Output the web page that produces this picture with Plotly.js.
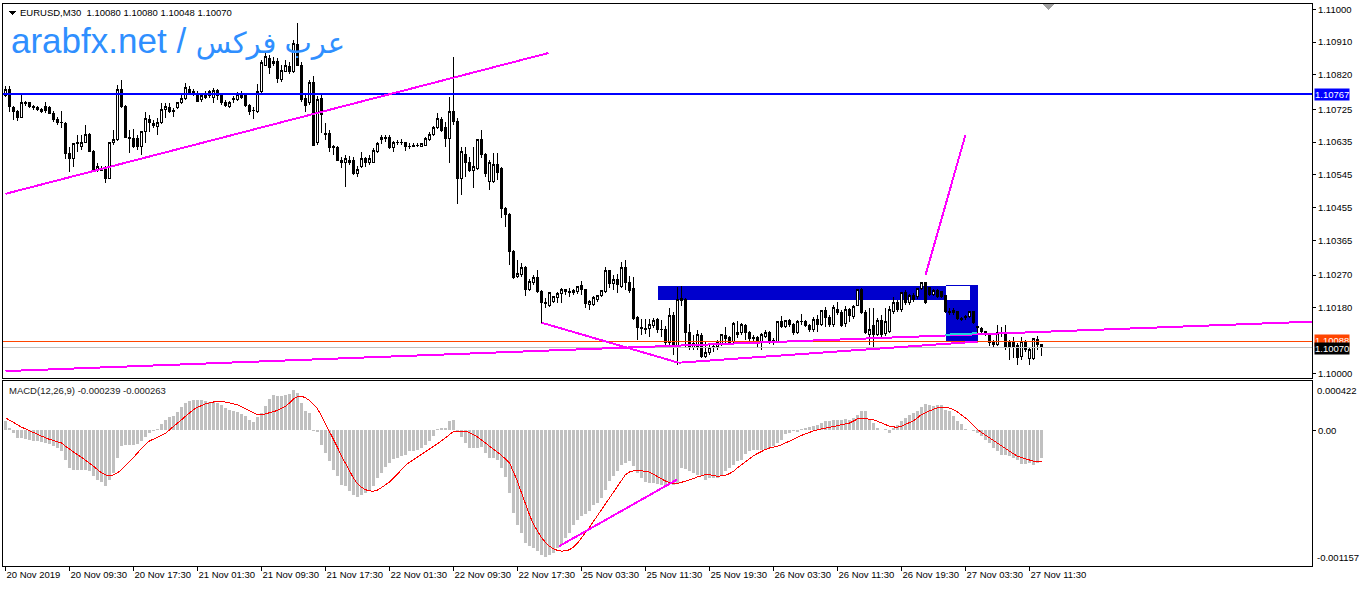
<!DOCTYPE html>
<html>
<head>
<meta charset="utf-8">
<script src="https://cdn.plot.ly/plotly-3.0.1.min.js"></script>
<style>
html,body{margin:0;padding:0;background:#fff;}
#chart{width:1360px;height:589px;}
.main-svg path{shape-rendering:crispEdges;}
</style>
</head>
<body>
<div id="chart"></div>
<script>
const symbolName = "EURUSD,M30";

const open = [
1.10762,1.10781,1.10729,1.10718,1.10704,1.10743,1.10743,1.10734,1.10729,1.10718,
1.10732,1.10729,1.10715,1.10696,1.10688,1.10685,1.10605,1.10589,1.10630,1.10622,
1.10635,1.10655,1.10608,1.10556,1.10564,1.10564,1.10536,1.10633,1.10641,1.10781,
1.10732,1.10649,1.10646,1.10644,1.10622,1.10663,1.10696,1.10685,1.10679,1.10688,
1.10726,1.10729,1.10721,1.10729,1.10743,1.10754,1.10781,1.10773,1.10770,1.10751,
1.10767,1.10762,1.10759,1.10776,1.10762,1.10743,1.10732,1.10756,1.10751,1.10770,
1.10762,1.10737,1.10721,1.10718,1.10773,1.10847,1.10866,1.10850,1.10858,1.10806,
1.10830,1.10844,1.10828,1.10902,1.10847,1.10754,1.10743,1.10800,1.10633,1.10754,
1.10660,1.10660,1.10622,1.10619,1.10586,1.10578,1.10578,1.10586,1.10550,1.10567,
1.10589,1.10578,1.10580,1.10608,1.10641,1.10649,1.10649,1.10619,1.10633,1.10635,
1.10633,1.10624,1.10624,1.10627,1.10624,1.10627,1.10641,1.10655,1.10674,1.10696,
1.10674,1.10644,1.10718,1.10693,1.10536,1.10602,1.10578,1.10558,1.10564,1.10641,
1.10600,1.10526,1.10528,1.10575,1.10564,1.10454,1.10435,1.10334,1.10265,1.10271,
1.10290,1.10229,1.10249,1.10262,1.10224,1.10194,1.10185,1.10196,1.10207,1.10218,
1.10229,1.10224,1.10221,1.10224,1.10240,1.10229,1.10188,1.10188,1.10202,1.10213,
1.10224,1.10282,1.10246,1.10257,1.10238,1.10290,1.10249,1.10232,1.10153,1.10125,
1.10122,1.10122,1.10131,1.10147,1.10120,1.10120,1.10084,1.10158,1.10073,1.10205,
1.10202,1.10111,1.10070,1.10073,1.10103,1.10045,1.10056,1.10070,1.10073,1.10078,
1.10103,1.10098,1.10087,1.10111,1.10111,1.10131,1.10111,1.10095,1.10098,1.10087,
1.10100,1.10111,1.10089,1.10087,1.10142,1.10128,1.10144,1.10133,1.10111,1.10142,
1.10142,1.10131,1.10120,1.10147,1.10133,1.10172,1.10153,1.10133,1.10174,1.10166,
1.10136,1.10174,1.10155,1.10185,1.10229,1.10166,1.10106,1.10131,1.10106,1.10144,
1.10109,1.10114,1.10169,1.10194,1.10174,1.10221,1.10194,1.10213,1.10210,1.10232,
1.10249,1.10235,1.10216,1.10227,1.10224,1.10213,1.10169,1.10172,1.10169,1.10150,
1.10153,1.10155,1.10169,1.10128,1.10122,1.10114,1.10106,1.10087,1.10078,1.10111,
1.10109,1.10084,1.10087,1.10076,1.10045,1.10084,1.10040,1.10040,1.10092,1.10080
];
const high = [
1.10789,1.10789,1.10734,1.10723,1.10765,1.10748,1.10745,1.10737,1.10734,1.10729,
1.10745,1.10734,1.10721,1.10704,1.10721,1.10690,1.10622,1.10633,1.10655,1.10655,
1.10682,1.10660,1.10613,1.10578,1.10569,1.10569,1.10635,1.10668,1.10792,1.10806,
1.10737,1.10668,1.10671,1.10655,1.10666,1.10718,1.10710,1.10696,1.10701,1.10743,
1.10743,1.10743,1.10729,1.10745,1.10770,1.10797,1.10789,1.10781,1.10776,1.10770,
1.10776,1.10778,1.10784,1.10781,1.10767,1.10751,1.10748,1.10762,1.10773,1.10776,
1.10767,1.10740,1.10732,1.10795,1.10861,1.10880,1.10874,1.10869,1.10866,1.10847,
1.10861,1.10855,1.10916,1.10962,1.10855,1.10765,1.10806,1.10817,1.10762,1.10765,
1.10688,1.10668,1.10627,1.10624,1.10594,1.10600,1.10597,1.10594,1.10569,1.10608,
1.10594,1.10600,1.10619,1.10635,1.10655,1.10655,1.10655,1.10638,1.10641,1.10644,
1.10635,1.10633,1.10633,1.10633,1.10633,1.10649,1.10663,1.10679,1.10715,1.10704,
1.10690,1.10759,1.10869,1.10701,1.10622,1.10622,1.10594,1.10622,1.10644,1.10668,
1.10605,1.10586,1.10605,1.10605,1.10567,1.10457,1.10440,1.10339,1.10312,1.10304,
1.10295,1.10260,1.10271,1.10284,1.10229,1.10207,1.10221,1.10213,1.10224,1.10235,
1.10232,1.10235,1.10232,1.10240,1.10254,1.10232,1.10202,1.10213,1.10216,1.10229,
1.10293,1.10284,1.10271,1.10273,1.10306,1.10312,1.10268,1.10265,1.10158,1.10150,
1.10150,1.10150,1.10153,1.10153,1.10147,1.10131,1.10180,1.10169,1.10238,1.10240,
1.10207,1.10136,1.10106,1.10120,1.10111,1.10087,1.10078,1.10084,1.10092,1.10106,
1.10128,1.10103,1.10142,1.10144,1.10139,1.10136,1.10117,1.10106,1.10103,1.10111,
1.10120,1.10117,1.10098,1.10144,1.10158,1.10147,1.10150,1.10139,1.10147,1.10163,
1.10147,1.10136,1.10155,1.10161,1.10174,1.10183,1.10161,1.10188,1.10196,1.10174,
1.10185,1.10180,1.10188,1.10232,1.10235,1.10174,1.10180,1.10180,1.10153,1.10161,
1.10180,1.10185,1.10210,1.10202,1.10224,1.10229,1.10218,1.10221,1.10235,1.10251,
1.10251,1.10238,1.10232,1.10232,1.10227,1.10216,1.10180,1.10180,1.10172,1.10155,
1.10161,1.10172,1.10172,1.10131,1.10128,1.10117,1.10109,1.10092,1.10133,1.10128,
1.10133,1.10092,1.10100,1.10084,1.10100,1.10092,1.10070,1.10098,1.10103,1.10080
];
const low = [
1.10759,1.10718,1.10696,1.10693,1.10704,1.10734,1.10729,1.10723,1.10721,1.10715,
1.10715,1.10712,1.10690,1.10682,1.10674,1.10589,1.10553,1.10567,1.10608,1.10613,
1.10633,1.10608,1.10553,1.10553,1.10556,1.10523,1.10534,1.10627,1.10638,1.10729,
1.10646,1.10605,1.10619,1.10613,1.10600,1.10633,1.10663,1.10674,1.10655,1.10685,
1.10701,1.10715,1.10704,1.10726,1.10740,1.10751,1.10765,1.10762,1.10745,1.10745,
1.10754,1.10756,1.10743,1.10751,1.10737,1.10732,1.10729,1.10743,1.10748,1.10754,
1.10732,1.10710,1.10699,1.10715,1.10770,1.10844,1.10822,1.10844,1.10797,1.10800,
1.10828,1.10822,1.10825,1.10844,1.10745,1.10718,1.10737,1.10624,1.10627,1.10660,
1.10641,1.10608,1.10600,1.10583,1.10564,1.10512,1.10572,1.10545,1.10539,1.10564,
1.10567,1.10572,1.10578,1.10605,1.10630,1.10635,1.10616,1.10608,1.10627,1.10627,
1.10611,1.10616,1.10622,1.10622,1.10622,1.10624,1.10638,1.10652,1.10671,1.10663,
1.10622,1.10578,1.10682,1.10465,1.10490,1.10539,1.10553,1.10509,1.10558,1.10591,
1.10539,1.10504,1.10523,1.10531,1.10427,1.10402,1.10298,1.10260,1.10262,1.10265,
1.10213,1.10227,1.10243,1.10221,1.10139,1.10180,1.10183,1.10194,1.10194,1.10194,
1.10216,1.10210,1.10216,1.10218,1.10216,1.10180,1.10174,1.10185,1.10196,1.10210,
1.10221,1.10235,1.10229,1.10221,1.10235,1.10229,1.10221,1.10147,1.10092,1.10106,
1.10109,1.10100,1.10125,1.10111,1.10100,1.10070,1.10076,1.10051,1.10023,1.10185,
1.10070,1.10065,1.10065,1.10065,1.10043,1.10043,1.10051,1.10059,1.10065,1.10076,
1.10081,1.10081,1.10084,1.10098,1.10106,1.10092,1.10087,1.10087,1.10073,1.10065,
1.10098,1.10081,1.10078,1.10087,1.10125,1.10125,1.10128,1.10106,1.10109,1.10133,
1.10128,1.10114,1.10114,1.10114,1.10131,1.10128,1.10128,1.10128,1.10161,1.10128,
1.10128,1.10142,1.10150,1.10185,1.10163,1.10109,1.10078,1.10065,1.10103,1.10100,
1.10103,1.10111,1.10163,1.10169,1.10169,1.10188,1.10188,1.10196,1.10205,1.10229,
1.10191,1.10213,1.10213,1.10207,1.10207,1.10166,1.10161,1.10161,1.10147,1.10144,
1.10147,1.10153,1.10136,1.10111,1.10109,1.10103,1.10076,1.10073,1.10076,1.10100,
1.10065,1.10037,1.10043,1.10023,1.10037,1.10059,1.10023,1.10037,1.10065,1.10048
];
const close = [
1.10781,1.10734,1.10718,1.10704,1.10743,1.10740,1.10734,1.10729,1.10726,1.10726,
1.10723,1.10715,1.10696,1.10688,1.10690,1.10605,1.10589,1.10630,1.10633,1.10635,
1.10655,1.10608,1.10558,1.10567,1.10558,1.10536,1.10633,1.10641,1.10781,1.10732,
1.10649,1.10644,1.10622,1.10622,1.10663,1.10699,1.10688,1.10682,1.10688,1.10726,
1.10732,1.10718,1.10718,1.10743,1.10756,1.10784,1.10770,1.10770,1.10748,1.10762,
1.10759,1.10773,1.10778,1.10762,1.10743,1.10737,1.10743,1.10751,1.10767,1.10759,
1.10737,1.10718,1.10723,1.10773,1.10855,1.10869,1.10841,1.10858,1.10811,1.10833,
1.10847,1.10828,1.10907,1.10847,1.10751,1.10737,1.10800,1.10627,1.10751,1.10710,
1.10657,1.10619,1.10619,1.10586,1.10578,1.10589,1.10586,1.10550,1.10561,1.10589,
1.10578,1.10591,1.10613,1.10630,1.10649,1.10646,1.10619,1.10633,1.10635,1.10633,
1.10624,1.10623,1.10627,1.10626,1.10630,1.10644,1.10655,1.10674,1.10699,1.10668,
1.10644,1.10718,1.10693,1.10536,1.10608,1.10578,1.10558,1.10567,1.10641,1.10600,
1.10550,1.10578,1.10575,1.10553,1.10454,1.10435,1.10334,1.10262,1.10273,1.10290,
1.10229,1.10251,1.10262,1.10224,1.10194,1.10191,1.10221,1.10210,1.10218,1.10229,
1.10224,1.10221,1.10227,1.10238,1.10229,1.10191,1.10196,1.10207,1.10213,1.10227,
1.10282,1.10246,1.10257,1.10243,1.10290,1.10249,1.10227,1.10150,1.10125,1.10122,
1.10121,1.10133,1.10144,1.10120,1.10119,1.10084,1.10158,1.10073,1.10202,1.10199,
1.10111,1.10073,1.10081,1.10106,1.10045,1.10056,1.10070,1.10073,1.10084,1.10106,
1.10095,1.10084,1.10136,1.10106,1.10133,1.10111,1.10095,1.10098,1.10081,1.10106,
1.10111,1.10087,1.10088,1.10142,1.10128,1.10144,1.10133,1.10111,1.10142,1.10141,
1.10131,1.10120,1.10147,1.10133,1.10172,1.10153,1.10133,1.10180,1.10166,1.10131,
1.10174,1.10158,1.10183,1.10229,1.10166,1.10111,1.10120,1.10106,1.10144,1.10106,
1.10142,1.10174,1.10194,1.10174,1.10221,1.10194,1.10213,1.10202,1.10232,1.10249,
1.10194,1.10216,1.10227,1.10210,1.10210,1.10169,1.10168,1.10166,1.10150,1.10149,
1.10155,1.10169,1.10139,1.10125,1.10114,1.10106,1.10084,1.10078,1.10111,1.10109,
1.10070,1.10070,1.10073,1.10043,1.10087,1.10065,1.10065,1.10095,1.10078,1.10070
];

const macdMain = [
0.000079,0.000021,-0.000021,-0.000064,-0.000064,-0.000073,-0.000078,-0.000087,-0.000092,-0.000101,
-0.000107,-0.000115,-0.000135,-0.000149,-0.000172,-0.000249,-0.00032,-0.000334,-0.00034,-0.00034,
-0.000334,-0.000343,-0.000391,-0.00042,-0.00044,-0.000477,-0.00042,-0.000363,-0.000235,-0.000135,
-0.000121,-0.000121,-0.000121,-0.000115,-0.000092,-0.000058,-0.000021,-0.000007,0.000015,0.000055,
0.000092,0.000113,0.000126,0.000155,0.000198,0.000235,0.000254,0.000263,0.000263,0.000263,
0.000254,0.000243,0.000243,0.000235,0.000215,0.000192,0.000178,0.000164,0.000155,0.000141,
0.000121,0.000092,0.00007,0.000113,0.000149,0.000206,0.000271,0.0003,0.000292,0.000292,
0.000306,0.000311,0.000343,0.00032,0.000235,0.000169,0.000149,-0.000007,-0.000015,-0.000121,
-0.000192,-0.000263,-0.000334,-0.000391,-0.000462,-0.000477,-0.000519,-0.000548,-0.000567,-0.000548,
-0.000533,-0.000519,-0.000477,-0.000405,-0.000363,-0.000314,-0.000277,-0.000243,-0.000235,-0.00022,
-0.000206,-0.000177,-0.000172,-0.000164,-0.000149,-0.000121,-0.000092,-0.00005,0.000009,
0.000021,0.000021,0.000078,0.000092,-0.000001,-0.000058,-0.000107,-0.000149,-0.000149,-0.000149,
-0.000144,-0.000192,-0.000235,-0.000235,-0.000249,-0.00032,-0.0004,-0.000533,-0.000704,-0.000803,
-0.000875,-0.00096,-0.000988,-0.001003,-0.001031,-0.001059,-0.001082,-0.001059,-0.001045,-0.001003,
-0.000974,-0.000917,-0.000875,-0.000803,-0.000761,-0.000732,-0.000712,-0.000684,-0.000633,-0.000619,
-0.000576,-0.000505,-0.000434,-0.000391,-0.000348,-0.000297,-0.000277,-0.000257,-0.000306,-0.000363,
-0.000405,-0.000439,-0.000448,-0.000448,-0.000456,-0.000468,-0.000462,-0.000456,-0.000462,-0.000448,
-0.00032,-0.000326,-0.000343,-0.000363,-0.000377,-0.000391,-0.00042,-0.000405,-0.000405,-0.000405,
-0.000377,-0.000348,-0.00032,-0.000292,-0.000263,-0.000249,-0.000201,-0.000172,-0.000164,-0.000164,
-0.000164,-0.000158,-0.000149,-0.000135,-0.000107,-0.000078,-0.00003,-0.000021,-0.000007,-0.000013,
0.000013,0.000021,0.00003,0.000036,0.00005,0.000064,0.000078,0.000084,0.000092,0.000092,
0.000092,0.000101,0.000092,0.000107,0.000135,0.000169,0.000164,0.000092,0.000064,0.000021,
0.000007,0.000016,-0.000021,0.000021,0.00005,0.000078,0.000107,0.000135,0.000149,0.000169,
0.000198,0.000226,0.00022,0.000206,0.00022,0.000215,0.000178,0.000164,0.000121,0.000084,
0.000055,0.000016,0.000007,-0.000001,-0.000021,-0.00005,-0.000078,-0.000107,-0.000149,-0.000178,
-0.000212,-0.000212,-0.00022,-0.000235,-0.000249,-0.000286,-0.000286,-0.000277,-0.000297,-0.000277,
-0.000239
];
const macdSignal = [
0.000107,0.00009,0.00007,0.000049,0.000028,0.000012,-0.000003,-0.000018,-0.000033,-0.000048,
-0.000063,-0.000076,-0.000087,-0.000098,-0.000107,-0.000135,-0.000162,-0.000185,-0.000208,-0.00023,
-0.000254,-0.000275,-0.000305,-0.000335,-0.000362,-0.00038,-0.000386,-0.000379,-0.000362,-0.000335,
-0.000303,-0.000268,-0.000232,-0.000192,-0.000152,-0.000118,-0.00009,-0.000073,-0.00006,-0.00004,
-0.000025,0.000005,0.000035,0.000062,0.000092,0.000122,0.000152,0.000178,0.000198,0.000214,
0.000226,0.000236,0.000245,0.000249,0.000247,0.000243,0.000236,0.000226,0.000218,0.000203,
0.000188,0.000168,0.00015,0.000133,0.000133,0.000141,0.00015,0.00016,0.000172,0.000188,
0.000205,0.000235,0.000268,0.000288,0.000293,0.000278,0.000255,0.000222,0.000185,0.000125,
0.00006,-0.000002,-0.000068,-0.000145,-0.000218,-0.000285,-0.00035,-0.000408,-0.000455,-0.000485,
-0.000506,-0.000516,-0.000519,-0.000509,-0.000488,-0.000465,-0.00044,-0.000408,-0.000372,-0.000335,
-0.000298,-0.000272,-0.00025,-0.000225,-0.000202,-0.00018,-0.00016,-0.000142,-0.000114,-0.000088,
-0.000062,-0.000034,-0.00001,-0.000006,-0.000006,-0.000008,-0.000018,-0.000035,-0.000055,-0.000082,
-0.000108,-0.000133,-0.000158,-0.000183,-0.000212,-0.000245,-0.000277,-0.000355,-0.000434,-0.000534,
-0.000633,-0.00072,-0.000803,-0.000863,-0.000915,-0.000955,-0.000988,-0.00101,-0.001024,-0.00103,
-0.001028,-0.001018,-0.000995,-0.000962,-0.00092,-0.000877,-0.000826,-0.000776,-0.000726,-0.000676,
-0.000626,-0.000573,-0.00052,-0.000467,-0.000421,-0.000377,-0.000355,-0.000344,-0.000342,-0.000343,
-0.000348,-0.000355,-0.000372,-0.000391,-0.000413,-0.000432,-0.000447,-0.000451,-0.000451,-0.000443,
-0.000434,-0.000422,-0.000411,-0.000396,-0.000385,-0.000378,-0.000378,-0.000385,-0.000391,-0.000387,
-0.000384,-0.000368,-0.000348,-0.000318,-0.000291,-0.000262,-0.000235,-0.000216,-0.000197,-0.000177,
-0.000162,-0.00015,-0.000143,-0.000136,-0.000122,-0.000108,-0.000094,-0.000079,-0.00006,-0.000042,
-0.000028,-0.000014,-0.000004,0.000005,0.000012,0.00002,0.000027,0.000035,0.000042,0.000049,
0.000056,0.000063,0.00008,0.000099,0.000101,0.000101,0.000097,0.000092,0.000079,0.000065,
0.00005,0.000036,0.00003,0.000027,0.000037,0.00005,0.000067,0.000083,0.00011,0.000135,
0.000152,0.000169,0.000181,0.000192,0.000196,0.000198,0.00019,0.000178,0.000158,0.000135,
0.000107,0.000078,0.000042,0.000007,-0.000018,-0.000041,-0.000066,-0.000092,-0.000113,-0.000135,
-0.000157,-0.000178,-0.0002,-0.00022,-0.00023,-0.00024,-0.000252,-0.000263,-0.000263,-0.000263
];

const timeTickBars = [0,16,32,48,64,80,96,112,128,144,160,176,192,208,224,240,256];
const timeTickLabels = ["20 Nov 2019","20 Nov 09:30","20 Nov 17:30","21 Nov 01:30","21 Nov 09:30","21 Nov 17:30","22 Nov 01:30","22 Nov 09:30","22 Nov 17:30","25 Nov 03:30","25 Nov 11:30","25 Nov 19:30","26 Nov 03:30","26 Nov 11:30","26 Nov 19:30","27 Nov 03:30","27 Nov 11:30"];
const priceTicks = [1.11000,1.10910,1.10820,1.10725,1.10635,1.10545,1.10455,1.10365,1.10270,1.10180,1.10000];
const priceRange = [1.09987, 1.110146];
const macdRange = [-0.001157, 0.000422];

const levelBlue = 1.10767;
const levelOrange = 1.10088;
const levelBid = 1.10070;

// drawn objects: [barFrom, priceFrom, barTo, priceTo]
const magentaLines = [
  [0, 1.10493, 135.75, 1.10880],
  [0, 1.10006, 326.75, 1.10142],
  [134, 1.10139, 168.25, 1.10029],
  [168.25, 1.10029, 243, 1.10087],
  [230, 1.10270, 240, 1.10655]
];
const cyanLine = [235, 1.10106, 243, 1.10110];
const macdMagentaLine = [138.4, -0.000988, 167.85, -0.000420];
const blueRects = [
  [163, 1.10202, 235, 1.10240],
  [235, 1.10087, 243, 1.10243]
];
const whiteRects = [
  [235, 1.10202, 241, 1.10240]
];

const bars = open.map((_, i) => i);
const last = close.length - 1;
const FONT = "Liberation Sans, Arial, DejaVu Sans, sans-serif";
const PX = x => (x - 3) / 1309;
const PY = y => (566 - y) / 562;
const xRange = [-0.625, 326.625];

const traces = [
  {
    type: 'candlestick', x: bars, open: open, high: high, low: low, close: close,
    xaxis: 'x', yaxis: 'y',
    increasing: {line: {color: '#000000', width: 1}, fillcolor: '#ffffff'},
    decreasing: {line: {color: '#000000', width: 1}, fillcolor: '#000000'},
    whiskerwidth: 0, hoverinfo: 'skip', showlegend: false
  },
  {
    type: 'bar', x: bars, y: macdMain, xaxis: 'x2', yaxis: 'y2',
    marker: {color: '#C0C0C0', line: {width: 0}}, width: 0.75,
    hoverinfo: 'skip', showlegend: false
  },
  {
    type: 'scatter', mode: 'lines', x: bars, y: macdSignal, xaxis: 'x2', yaxis: 'y2',
    line: {color: '#FF0000', width: 1}, hoverinfo: 'skip', showlegend: false
  }
];

const shapes = [];
blueRects.forEach(r => shapes.push({type: 'rect', xref: 'x', yref: 'y', x0: r[0], y0: r[1], x1: r[2], y1: r[3], fillcolor: '#0000CD', line: {width: 0}, layer: 'below'}));
whiteRects.forEach(r => shapes.push({type: 'rect', xref: 'x', yref: 'y', x0: r[0], y0: r[1], x1: r[2], y1: r[3], fillcolor: '#FFFFFF', line: {width: 0}, layer: 'below'}));
shapes.push({type: 'line', xref: 'paper', yref: 'y', x0: 0, x1: 1, y0: levelBid, y1: levelBid, line: {color: '#C0C0C0', width: 1}});
shapes.push({type: 'line', xref: 'paper', yref: 'y', x0: 0, x1: 1, y0: levelOrange, y1: levelOrange, line: {color: '#FF4500', width: 1}});
shapes.push({type: 'line', xref: 'paper', yref: 'y', x0: 0, x1: 1, y0: levelBlue, y1: levelBlue, line: {color: '#0000FF', width: 2}});
magentaLines.forEach(l => shapes.push({type: 'line', xref: 'x', yref: 'y', x0: l[0], y0: l[1], x1: l[2], y1: l[3], line: {color: '#FF00FF', width: 2}}));
shapes.push({type: 'line', xref: 'x', yref: 'y', x0: cyanLine[0], y0: cyanLine[1], x1: cyanLine[2], y1: cyanLine[3], line: {color: '#20D8D8', width: 2}});
shapes.push({type: 'line', xref: 'x2', yref: 'y2', x0: macdMagentaLine[0], y0: macdMagentaLine[1], x1: macdMagentaLine[2], y1: macdMagentaLine[3], line: {color: '#FF00FF', width: 2}});
shapes.push({type: 'path', xref: 'paper', yref: 'paper', path: `M ${PX(9)} ${PY(11)} L ${PX(16)} ${PY(11)} L ${PX(12.5)} ${PY(15)} Z`, fillcolor: '#000', line: {width: 0}});
shapes.push({type: 'path', xref: 'paper', yref: 'paper', path: `M ${PX(1042)} ${PY(4)} L ${PX(1054)} ${PY(4)} L ${PX(1048)} ${PY(10)} Z`, fillcolor: '#A0A0A0', line: {width: 0}});

const f5 = v => v.toFixed(5);
const annotations = [
  {xref: 'paper', yref: 'paper', x: PX(18), y: PY(12.5), xanchor: 'left', yanchor: 'middle', showarrow: false,
   text: `${symbolName}\u00a0\u00a0${f5(open[last])} ${f5(high[last])} ${f5(low[last])} ${f5(close[last])}`,
   font: {family: FONT, size: 9.5, color: '#000'}},
  {xref: 'paper', yref: 'paper', x: PX(9), y: PY(40), xanchor: 'left', yanchor: 'middle', showarrow: false,
   text: 'arabfx.net / <span style="font-size:29px">عرب فركس</span>', font: {family: FONT, size: 35, color: '#2F8FFF'}},
  {xref: 'paper', yref: 'paper', x: PX(7), y: PY(390), xanchor: 'left', yanchor: 'middle', showarrow: false,
   text: `MACD(12,26,9) ${macdMain[last].toFixed(6)} ${macdSignal[last].toFixed(6)}`,
   font: {family: FONT, size: 9.5, color: '#202020'}},
  {xref: 'paper', yref: 'y2', x: PX(1315), y: macdRange[1], xanchor: 'left', yanchor: 'top', yshift: -2, showarrow: false,
   text: macdRange[1].toFixed(6), font: {family: FONT, size: 9.5, color: '#000'}},
  {xref: 'paper', yref: 'y2', x: PX(1315), y: macdRange[0], xanchor: 'left', yanchor: 'bottom', yshift: 1, showarrow: false,
   text: macdRange[0].toFixed(6), font: {family: FONT, size: 9.5, color: '#000'}},
  {xref: 'paper', yref: 'y', x: PX(1314), y: levelBlue, xanchor: 'left', yanchor: 'middle', showarrow: false,
   text: f5(levelBlue), bgcolor: '#0000FF', borderpad: 0, font: {family: FONT, size: 9.5, color: '#FFFFFF'}},
  {xref: 'paper', yref: 'y', x: PX(1314), y: levelOrange, xanchor: 'left', yanchor: 'middle', yshift: 1, showarrow: false,
   text: f5(levelOrange), bgcolor: '#FF4500', borderpad: 0, font: {family: FONT, size: 9.5, color: '#FFFFFF'}},
  {xref: 'paper', yref: 'y', x: PX(1314), y: levelBid, xanchor: 'left', yanchor: 'middle', yshift: -1, showarrow: false,
   text: f5(levelBid), bgcolor: '#000000', borderpad: 0, font: {family: FONT, size: 9.5, color: '#FFFFFF'}}
];

const axisLine = {showline: true, linecolor: '#000', linewidth: 1, mirror: true, showgrid: false, zeroline: false, fixedrange: true};
const layout = {
  width: 1360, height: 589,
  margin: {l: 3, r: 48, t: 4, b: 23, pad: 0},
  paper_bgcolor: '#FFFFFF', plot_bgcolor: '#FFFFFF',
  showlegend: false, hovermode: false, dragmode: false,
  boxgap: 0.25,
  font: {family: FONT, size: 9.5, color: '#000'},
  xaxis: Object.assign({}, axisLine, {
    anchor: 'y', range: xRange, showticklabels: false, ticks: '',
    rangeslider: {visible: false}
  }),
  xaxis2: Object.assign({}, axisLine, {
    anchor: 'y2', range: xRange, matches: 'x',
    tickmode: 'array', tickvals: timeTickBars, ticktext: timeTickLabels,
    ticks: 'outside', ticklen: 4, tickwidth: 1, tickcolor: '#000',
    ticklabelposition: 'outside right', tickangle: 0,
    tickfont: {family: FONT, size: 9.5, color: '#000'},
    rangeslider: {visible: false}
  }),
  yaxis: Object.assign({}, axisLine, {
    domain: [0.3345, 1], side: 'right', range: priceRange, anchor: 'x',
    tickmode: 'array', tickvals: priceTicks, ticktext: priceTicks.map(f5),
    ticks: 'outside', ticklen: 3, tickwidth: 1, tickcolor: '#000',
    tickfont: {family: FONT, size: 9.5, color: '#000'}
  }),
  yaxis2: Object.assign({}, axisLine, {
    domain: [0, 0.3292], side: 'right', range: macdRange, anchor: 'x2',
    tickmode: 'array', tickvals: [0], ticktext: ['0.00'],
    ticks: 'outside', ticklen: 3, tickwidth: 1, tickcolor: '#000',
    tickfont: {family: FONT, size: 9.5, color: '#000'}
  }),
  shapes: shapes,
  annotations: annotations
};

Plotly.newPlot('chart', traces, layout, {staticPlot: true, displayModeBar: false, responsive: false});
</script>
</body>
</html>
